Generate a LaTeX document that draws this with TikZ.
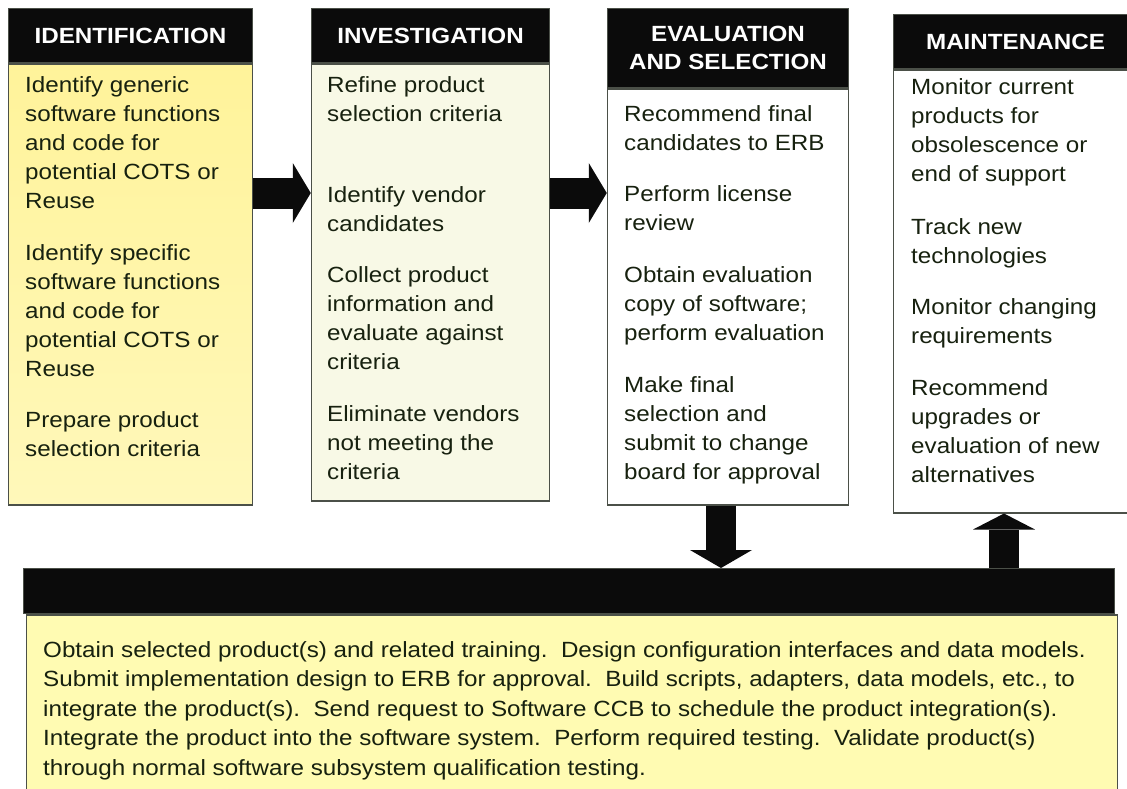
\documentclass[tikz,border=0pt]{standalone}
\usepackage{fontspec}
\setmainfont{Liberation Sans}[FakeStretch=1.1]
\usetikzlibrary{arrows.meta}

\definecolor{hdrblack}{HTML}{0B0B0B}
\definecolor{edgegray}{HTML}{4B5048}
\definecolor{txtdark}{HTML}{17210F}
\definecolor{idtop}{HTML}{FFF39A}
\definecolor{idbot}{HTML}{FFF8BA}
\definecolor{invfill}{HTML}{F8F9E6}
\definecolor{intfill}{HTML}{FFFBB2}

\tikzset{
  phasehead/.style={fill=hdrblack, draw=edgegray, line width=1pt, text=white, font=\bfseries\fontsize{22}{28}\selectfont, align=center, anchor=north west, minimum height=54pt, inner sep=0pt},
  phasebody/.style={draw=edgegray, line width=1.5pt, anchor=north, inner sep=0pt},
  steptext/.style={anchor=base west, align=left, inner sep=0pt, text=txtdark, font=\fontsize{22}{29}\selectfont},
  blockarrow/.style={line width=31pt, draw=hdrblack, -{Triangle[length=18pt,width=60pt,line width=0pt]}},
}

\begin{document}
\begin{tikzpicture}[x=1pt,y=-1pt]
        \useasboundingbox (0,0) rectangle (1127,788);
        \clip (0,0) rectangle (1127,788);

        % phase headers
        \node[phasehead, minimum width=244pt] (idhead) at (8,8) {IDENTIFICATION};
        \node[phasehead, minimum width=238pt] (invhead) at (311,8) {INVESTIGATION};
        \node[phasehead, minimum width=241pt, minimum height=79pt] (evhead) at (607,8) {EVALUATION\\AND SELECTION};
        \node[phasehead, minimum width=244pt] (mthead) at (893,14) {MAINTENANCE};

        % phase bodies
        \node[phasebody, top color=idtop, bottom color=idbot, minimum width=244pt, minimum height=441pt] (idbody) at (idhead.south) {};
        \node[phasebody, fill=invfill, minimum width=238pt, minimum height=437pt] (invbody) at (invhead.south) {};
        \node[phasebody, fill=white, minimum width=241pt, minimum height=416pt] (evbody) at (evhead.south) {};
        \node[phasebody, fill=white, minimum width=244pt, minimum height=443pt] (mtbody) at (mthead.south) {};

        % integration
        \node[phasehead, minimum width=1091pt, minimum height=45pt] (intbar) at (23,568) {};
        \node[phasebody, fill=intfill, minimum width=1091pt, minimum height=200pt] (intbody) at ([xshift=3pt]intbar.south) {};

        % identification (placed at last baseline)
        \node[steptext] (idtxta) at (25,208) {Identify generic\\software functions\\and code for\\potential COTS or\\Reuse};
        \node[steptext] (idtxtb) at (25,376) {Identify specific\\software functions\\and code for\\potential COTS or\\Reuse};
        \node[steptext] (idtxtc) at (25,456) {Prepare product\\selection criteria};

        % investigation
        \node[steptext] (invtxta) at (327,121) {Refine product\\selection criteria};
        \node[steptext] (invtxtb) at (327,231) {Identify vendor\\candidates};
        \node[steptext] (invtxtc) at (327,369) {Collect product\\information and\\evaluate against\\criteria};
        \node[steptext] (invtxtd) at (327,479) {Eliminate vendors\\not meeting the\\criteria};

        % evaluation and selection
        \node[steptext] (evtxta) at (624,150) {Recommend final\\candidates to ERB};
        \node[steptext] (evtxtb) at (624,230) {Perform license\\review};
        \node[steptext] (evtxtc) at (624,340) {Obtain evaluation\\copy of software;\\perform evaluation};
        \node[steptext] (evtxtd) at (624,479) {Make final\\selection and\\submit to change\\board for approval};

        % maintenance
        \node[steptext] (mttxta) at (911,181) {Monitor current\\products for\\obsolescence or\\end of support};
        \node[steptext] (mttxtb) at (911,263) {Track new\\technologies};
        \node[steptext] (mttxtc) at (911,343) {Monitor changing\\requirements};
        \node[steptext] (mttxtd) at (911,482) {Recommend\\upgrades or\\evaluation of new\\alternatives};

        % integration text
        \node[steptext, font=\fontsize{22}{29.5}\selectfont] (inttxt) at (43,775) {Obtain selected product(s) and related training.\ \ Design configuration interfaces and data models.\\Submit implementation design to ERB for approval.\ \ Build scripts, adapters, data models, etc., to\\integrate the product(s).\ \ Send request to Software CCB to schedule the product integration(s).\\Integrate the product into the software system.\ \ Perform required testing.\ \ Validate product(s)\\through normal software subsystem qualification testing.};

        % arrows
        \coordinate (arrowlevel) at (0,193);
        \coordinate (downlevel) at (721,0);
        \coordinate (uplevel) at (1004,0);
        \draw[blockarrow] (idbody.east |- arrowlevel) -- (invbody.west |- arrowlevel);
        \draw[blockarrow] (invbody.east |- arrowlevel) -- (evbody.west |- arrowlevel);
        \draw[blockarrow, line width=30pt, -{Triangle[length=18pt,width=62pt,line width=0pt]}] (evbody.south -| downlevel) -- (intbar.north -| downlevel);
        \draw[blockarrow, line width=30pt, -{Triangle[length=16pt,width=62pt,line width=0pt]}] (intbar.north -| uplevel) -- (mtbody.south -| uplevel);
\end{tikzpicture}
\end{document}
